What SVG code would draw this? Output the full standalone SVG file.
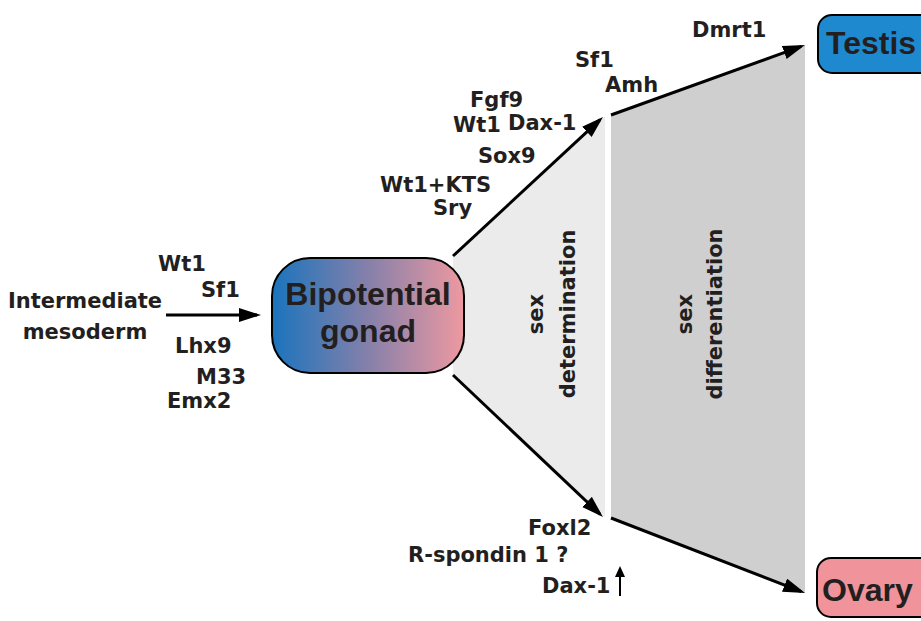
<svg xmlns="http://www.w3.org/2000/svg" width="921" height="621" viewBox="0 0 921 621">
<defs>
<style>
.lbl{font-family:"DejaVu Sans",sans-serif;font-weight:bold;font-size:21px;fill:#231f20}
.big{font-family:"Liberation Sans",Arial,sans-serif;font-weight:bold;font-size:32px;fill:#231f20}
.conn{stroke:#000;stroke-width:3;fill:none;marker-end:url(#ah)}
.box{stroke:#000;stroke-width:2}
</style>
<marker id="ah" markerUnits="userSpaceOnUse" markerWidth="24" markerHeight="16" refX="18" refY="7" orient="auto">
<path d="M0,0 L22,7 L0,14 z" fill="#000"/>
</marker>
<linearGradient id="gg" x1="0" y1="0" x2="1" y2="0">
<stop offset="0" stop-color="#1a74bd"/>
<stop offset="0.5" stop-color="#8580aa"/>
<stop offset="1" stop-color="#ee99a0"/>
</linearGradient>
</defs>
<rect width="921" height="621" fill="#fff"/>
<g id="regions">
<polygon points="453,257 605,116 605,517 453,374" fill="#ebebeb"/>
<polygon points="611,115 805,45 805,593 611,518" fill="#d0cfd0"/>
<text class="lbl" transform="translate(543,314) rotate(-90)" text-anchor="middle">sex</text>
<text class="lbl" transform="translate(575,314) rotate(-90)" text-anchor="middle">determination</text>
<text class="lbl" transform="translate(692,314) rotate(-90)" text-anchor="middle">sex</text>
<text class="lbl" transform="translate(722,314) rotate(-90)" text-anchor="middle">differentiation</text>
</g>
<g id="connectors">
<line class="conn" x1="166" y1="315" x2="257" y2="315"/>
<line class="conn" x1="453" y1="256" x2="600.1" y2="119.7"/>
<line class="conn" x1="453" y1="375" x2="600.1" y2="514.3"/>
<line class="conn" x1="611" y1="115" x2="801.2" y2="46.4"/>
<line class="conn" x1="611" y1="518" x2="801.3" y2="591.6"/>
</g>
<g id="mesoderm">
<text class="lbl" x="85" y="308" text-anchor="middle" font-size="22">Intermediate</text>
<text class="lbl" x="85" y="339" text-anchor="middle" font-size="22">mesoderm</text>
</g>
<g id="gonad">
<rect class="box" x="272" y="258" width="192" height="115" rx="38" fill="url(#gg)"/>
<text class="big" x="368" y="305" text-anchor="middle">Bipotential</text>
<text class="big" x="368" y="342" text-anchor="middle">gonad</text>
</g>
<g id="testis">
<rect class="box" x="818" y="15" width="130" height="58" rx="14" fill="#1f89cf"/>
<text class="big" x="826" y="54" font-size="33">Testis</text>
</g>
<g id="ovary">
<rect class="box" x="817" y="558" width="130" height="59" rx="14" fill="#f0939a"/>
<text class="big" x="822" y="601" font-size="34">Ovary</text>
</g>
<g id="labels">
<text class="lbl" x="158" y="271">Wt1</text>
<text class="lbl" x="201" y="297">Sf1</text>
<text class="lbl" x="175" y="353">Lhx9</text>
<text class="lbl" x="196" y="384">M33</text>
<text class="lbl" x="167" y="408">Emx2</text>
<text class="lbl" x="470" y="107">Fgf9</text>
<text class="lbl" x="453" y="132">Wt1</text>
<text class="lbl" x="508" y="130">Dax-1</text>
<text class="lbl" x="478" y="163">Sox9</text>
<text class="lbl" x="380" y="192">Wt1+KTS</text>
<text class="lbl" x="433" y="215">Sry</text>
<text class="lbl" x="575" y="67">Sf1</text>
<text class="lbl" x="605" y="92">Amh</text>
<text class="lbl" x="692" y="37">Dmrt1</text>
<text class="lbl" x="528" y="535">Foxl2</text>
<text class="lbl" x="408" y="562">R-spondin 1 ?</text>
<text class="lbl" x="542" y="593">Dax-1</text>
</g>
<g id="up-arrow">
<line x1="620" y1="596" x2="620" y2="574" stroke="#000" stroke-width="2"/>
<polygon points="620,566 615,577 625,577" fill="#000"/>
</g>
</svg>
